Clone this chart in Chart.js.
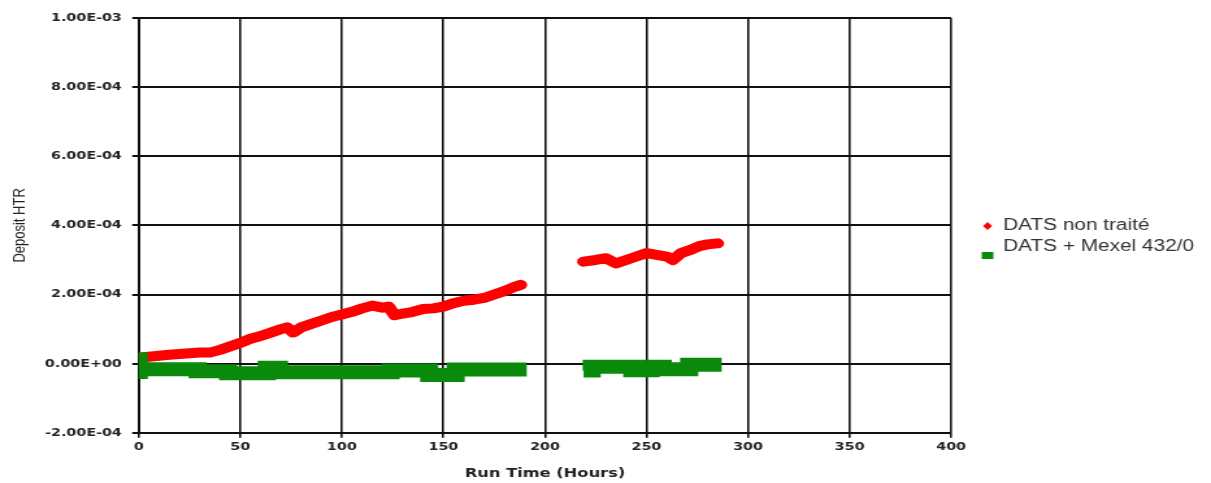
<!DOCTYPE html>
<html><head><meta charset="utf-8">
<script src="https://cdn.jsdelivr.net/npm/chart.js@4/dist/chart.umd.min.js"></script>
<style>html,body{margin:0;padding:0;background:#fff;overflow:hidden}
#c{display:block;width:932px;height:483px;transform:scaleX(1.2994);transform-origin:0 0}</style>
</head><body><canvas id="c" width="932" height="483"></canvas>
<script>
// Data (hours, deposit HTR); null marks the data gap
const seriesNames = ['DATS non traité', 'DATS + Mexel 432/0'];
const redHours = [0,5,10,15,20,25,30,35,40,45,50,55,60,65,70,73,76,80,85,90,95,100,105,110,115,120,123,126,130,135,140,145,150,155,160,165,170,175,180,185,188,
  205,
  219,225,230,235,240,245,250,255,260,263,267,272,276,280,285];
const redValues = [1.7e-5,2.0e-5,2.3e-5,2.6e-5,2.8e-5,3.0e-5,3.2e-5,3.2e-5,4.0e-5,5.0e-5,6.0e-5,7.2e-5,8.0e-5,9.0e-5,1.0e-4,1.05e-4,9.0e-5,1.05e-4,1.15e-4,1.25e-4,1.35e-4,1.42e-4,1.5e-4,1.6e-4,1.68e-4,1.62e-4,1.65e-4,1.4e-4,1.45e-4,1.5e-4,1.58e-4,1.6e-4,1.65e-4,1.75e-4,1.82e-4,1.85e-4,1.9e-4,2.0e-4,2.1e-4,2.22e-4,2.28e-4,
  null,
  2.95e-4,3.0e-4,3.05e-4,2.9e-4,3.0e-4,3.1e-4,3.2e-4,3.15e-4,3.1e-4,3.0e-4,3.2e-4,3.3e-4,3.4e-4,3.45e-4,3.48e-4];
// green series is drawn as steps: each value holds until the next hour listed
const greenHours = [0,0,0,29,44,63,69,124,143,156,191,
  205,
  219,223,243,252,258,271,287];
const greenValues = [3.2e-5,-4.4e-5,-1.6e-5,-2.2e-5,-2.75e-5,-1.2e-5,-2.5e-5,-2.0e-5,-3.3e-5,-1.7e-5,-1.7e-5,
  null,
  -2.0e-5,-0.9e-5,-1.9e-5,-0.9e-5,-1.6e-5,-0.3e-5,-0.3e-5];
const xTicks = [0,50,100,150,200,250,300,350,400];
const yTicks = [-2e-4,0,2e-4,4e-4,6e-4,8e-4,1e-3];

function sci(v){
  if (Math.abs(v) < 1e-12) return '0.00E+00';
  const e = Math.floor(Math.log10(Math.abs(v)) + 1e-9);
  const m = v / Math.pow(10, e);
  return m.toFixed(2) + 'E' + (e < 0 ? '-' : '+') + String(Math.abs(e)).padStart(2, '0');
}
const toPts = (xs, ys) => xs.map((x, i) => ({x: x, y: ys[i]}));

const bgPlugin = {id:'bg', beforeDraw(c){const g=c.ctx;g.save();g.fillStyle='#fff';g.fillRect(0,0,c.width,c.height);g.restore();}};

// Legend drawn beside the plot, with the marker shapes of the original
const legendPlugin = {id:'sideLegend', afterDraw(c){
  const g = c.ctx, ds = c.data.datasets;
  const mx = c.chartArea.right + 28, tx = mx + 12;
  g.save();
  g.fillStyle = ds[0].backgroundColor;
  g.beginPath(); g.moveTo(mx, 222); g.lineTo(mx + 3.5, 226); g.lineTo(mx, 230); g.lineTo(mx - 3.5, 226); g.closePath(); g.fill();
  g.fillStyle = ds[1].backgroundColor;
  g.fillRect(mx - 4.5, 252, 9, 7);
  g.fillStyle = '#333';
  g.font = '16px "Liberation Sans"';
  g.textBaseline = 'middle'; g.textAlign = 'left';
  g.fillText(ds[0].label, tx, 226);
  g.fillText(ds[1].label, tx, 247);
  g.restore();
}};

const tickFont = {family: 'DejaVu Sans', size: 11, weight: 'bold'};

new Chart(document.getElementById('c'), {
  type: 'scatter',
  data: {
    datasets: [
      {label: seriesNames[0], data: toPts(redHours, redValues), showLine: true, spanGaps: false, order: 1,
       borderColor: '#ff0000', backgroundColor: '#ff0000', borderWidth: 10, borderJoinStyle: 'round', borderCapStyle: 'round',
       pointStyle: 'rectRot', pointRadius: 0, pointHoverRadius: 0, pointBorderWidth: 0},
      {label: seriesNames[1], data: toPts(greenHours, greenValues), showLine: true, spanGaps: false, stepped: 'before', order: 0,
       borderColor: '#0a8a0a', backgroundColor: '#0a8a0a', borderWidth: 14, borderJoinStyle: 'miter', borderCapStyle: 'butt',
       pointStyle: 'rect', pointRadius: 0, pointHoverRadius: 0, pointBorderWidth: 0}
    ]
  },
  options: {
    responsive: false, animation: false, devicePixelRatio: 1,
    layout: {padding: {left: 8, right: 200, top: 18, bottom: 2}},
    plugins: {tooltip: {enabled: false}, legend: {display: false}},
    scales: {
      x: {type: 'linear', min: 0, max: 400,
        afterBuildTicks(a){ a.ticks = xTicks.map(v => ({value: v})); },
        grid: {color: '#111', lineWidth: 1.6, tickLength: 5},
        border: {color: '#111', width: 1.6},
        ticks: {color: '#222', padding: 3, maxRotation: 0, font: tickFont},
        title: {display: true, text: 'Run Time (Hours)', color: '#222', padding: {top: 9, bottom: 0},
                font: {family: 'DejaVu Sans', size: 12.5, weight: 'bold'}}
      },
      y: {type: 'linear', min: -2e-4, max: 1e-3,
        afterBuildTicks(a){ a.ticks = yTicks.map(v => ({value: v})); },
        grid: {color: '#111', lineWidth: 2, tickLength: 5},
        border: {color: '#111', width: 2},
        ticks: {color: '#222', padding: 8, callback: v => sci(v), font: tickFont},
        title: {display: true, text: 'Deposit HTR', color: '#222', padding: {top: 0, bottom: 3},
                font: {family: 'Liberation Sans', size: 13}}
      }
    }
  },
  plugins: [bgPlugin, legendPlugin]
});
</script></body></html>
